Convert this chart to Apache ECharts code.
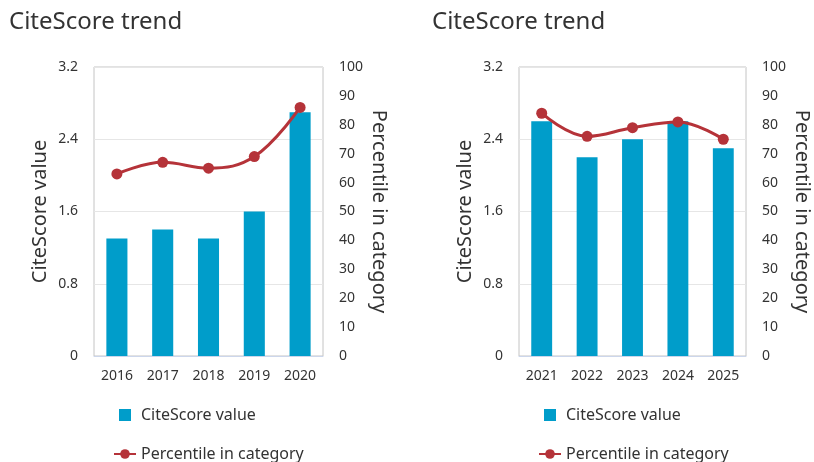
<!DOCTYPE html>
<html><head><meta charset="utf-8">
<script src="https://cdn.jsdelivr.net/npm/echarts@6/dist/echarts.min.js"></script>
<style>html,body{margin:0;padding:0;background:#fff}#c{width:814px;height:462px}</style>
</head><body><div id="c"></div>
<script>
const titleText = "CiteScore trend";
const leftYears = ["2016","2017","2018","2019","2020"];
const leftCiteScore = [1.3, 1.4, 1.3, 1.6, 2.7];
const leftPercentile = [63, 67, 65, 69, 86];
const rightYears = ["2021","2022","2023","2024","2025"];
const rightCiteScore = [2.6, 2.2, 2.4, 2.6, 2.3];
const rightPercentile = [84, 76, 79, 81, 75];
const citeTicks = { min: 0, max: 3.2, interval: 0.8 };
const pctTicks = { min: 0, max: 100, interval: 10 };
const barName = "CiteScore value";
const lineName = "Percentile in category";

const FONT = "'Noto Sans', sans-serif";
const TXT = "#333";
const BAR = "#009dca";
const LINE = "#b53339";

function yAxes(gi) {
  return [
    { type: 'value', gridIndex: gi, position: 'left', min: citeTicks.min, max: citeTicks.max, interval: citeTicks.interval,
      name: barName, nameLocation: 'middle', nameGap: 44, nameRotate: 90,
      nameTextStyle: { fontSize: 20, color: TXT, fontFamily: FONT },
      axisLine: { show: false }, axisTick: { show: false },
      axisLabel: { fontSize: 14, color: TXT, fontFamily: FONT, margin: 16 },
      splitLine: { show: true, lineStyle: { color: '#e6e6e6', width: 1 } } },
    { type: 'value', gridIndex: gi, position: 'right', min: pctTicks.min, max: pctTicks.max, interval: pctTicks.interval,
      name: lineName, nameLocation: 'middle', nameGap: 46, nameRotate: -90,
      nameTextStyle: { fontSize: 20, color: TXT, fontFamily: FONT },
      axisLine: { show: false }, axisTick: { show: false },
      axisLabel: { fontSize: 14, color: TXT, fontFamily: FONT, margin: 16 },
      splitLine: { show: false } }
  ];
}
function xAxis(gi, cats) {
  return { type: 'category', gridIndex: gi, data: cats,
    axisLine: { show: true, lineStyle: { color: '#ccd6eb' } }, axisTick: { show: false },
    axisLabel: { fontSize: 14, color: TXT, fontFamily: FONT, margin: 13 } };
}
function legend(left, idxSuffix) {
  return { orient: 'vertical', left: left, top: 405, height: 80, padding: 0, itemGap: 19, itemWidth: 22, itemHeight: 12,
    textStyle: { fontSize: 16, lineHeight: 20, color: TXT, fontFamily: FONT },
    data: [ { name: barName + idxSuffix, icon: 'path://M0,0L10,0L10,10L0,10Z' }, { name: lineName + idxSuffix } ],
    formatter: function (n) { return n.replace(/\u200b/g, ''); } };
}
const s2 = '\u200b';

const option = {
  animation: false,
  title: [
    { text: titleText, left: 4, top: 5, textStyle: { fontSize: 24, fontWeight: 'normal', color: TXT, fontFamily: FONT } },
    { text: titleText, left: 427, top: 5, textStyle: { fontSize: 24, fontWeight: 'normal', color: TXT, fontFamily: FONT } }
  ],
  grid: [
    { left: 94, right: 491, top: 67, bottom: 106, show: true, borderColor: '#c4c4c4', borderWidth: 1 },
    { left: 519, right: 68, top: 67, bottom: 106, show: true, borderColor: '#c4c4c4', borderWidth: 1 }
  ],
  legend: [ legend(113, ''), legend(538, s2) ],
  xAxis: [ xAxis(0, leftYears), xAxis(1, rightYears) ],
  yAxis: [ ...yAxes(0), ...yAxes(1) ],
  series: [
    { name: barName, type: 'bar', xAxisIndex: 0, yAxisIndex: 0, data: leftCiteScore, barWidth: '46%', itemStyle: { color: BAR } },
    { name: lineName, type: 'line', xAxisIndex: 0, yAxisIndex: 1, data: leftPercentile, smooth: 0.4,
      symbol: 'circle', symbolSize: 11, lineStyle: { color: LINE, width: 3 }, itemStyle: { color: LINE } },
    { name: barName + s2, type: 'bar', xAxisIndex: 1, yAxisIndex: 2, data: rightCiteScore, barWidth: '46%', itemStyle: { color: BAR } },
    { name: lineName + s2, type: 'line', xAxisIndex: 1, yAxisIndex: 3, data: rightPercentile, smooth: 0.4,
      symbol: 'circle', symbolSize: 11, lineStyle: { color: LINE, width: 3 }, itemStyle: { color: LINE } }
  ]
};
echarts.init(document.getElementById('c')).setOption(option);
</script></body></html>
